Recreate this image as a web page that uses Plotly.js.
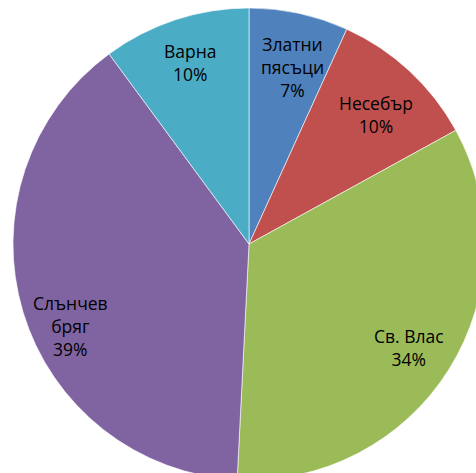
<!DOCTYPE html>
<html>
<head>
<meta charset="utf-8">
<script src="https://cdn.plot.ly/plotly-3.0.1.min.js"></script>
<style>
html,body{margin:0;padding:0;overflow:hidden;background:#fff;}
#chart{width:485px;height:480px;}
</style>
</head>
<body>
<div id="chart"></div>
<script>
const categories = ["Златни пясъци", "Несебър", "Св. Влас", "Слънчев бряг", "Варна"];
const displayLabels = ["Златни<br>пясъци", "Несебър", "Св. Влас", "Слънчев<br>бряг", "Варна"];
const shares = [6.8, 10.2, 33.8, 39.1, 10.1];
const colors = ["#4F81BD", "#C0504D", "#9BBB59", "#8064A2", "#4BACC6"];

// label placement (pixel centres of the text blocks) — layout only
const labelPx = [[292, 67], [376, 115], [409, 347], [70, 326], [190, 62]];
const M = {l: 13, t: 8, w: 472, h: 472};

const total = shares.reduce((a, b) => a + b, 0);
const annotations = categories.map((c, i) => ({
  xref: "paper", yref: "paper",
  x: (labelPx[i][0] - M.l) / M.w,
  y: 1 - (labelPx[i][1] - M.t) / M.h,
  xanchor: "center", yanchor: "middle",
  align: "center",
  showarrow: false,
  text: displayLabels[i] + "<br>" + Math.round(shares[i] / total * 100) + "%",
  font: {family: "Open Sans, Liberation Sans, sans-serif", size: 17.5, color: "#000"}
}));

Plotly.newPlot("chart", [{
  type: "pie",
  labels: categories,
  values: shares,
  textinfo: "none",
  textposition: "none",
  marker: {colors: colors, line: {color: "#ffffff", width: 0.6}},
  sort: false,
  direction: "clockwise",
  rotation: 0,
  showlegend: false,
  hoverinfo: "label+percent"
}], {
  width: 485,
  height: 480,
  margin: {l: M.l, t: M.t, r: 0, b: 0, pad: 0},
  paper_bgcolor: "#ffffff",
  showlegend: false,
  annotations: annotations
}, {displayModeBar: false, staticPlot: true});
</script>
</body>
</html>
